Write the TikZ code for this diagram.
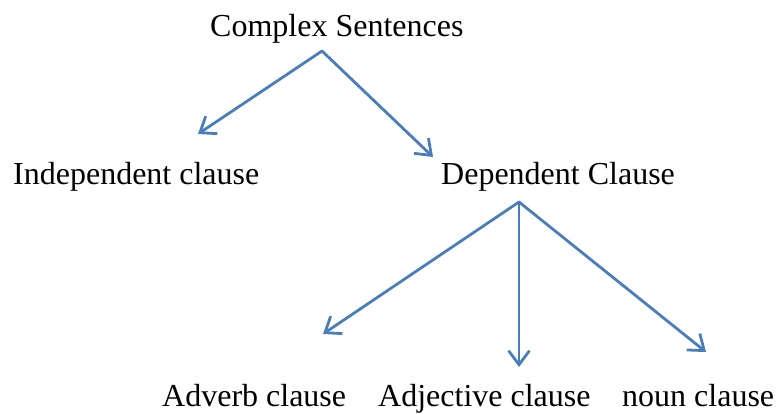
\documentclass[tikz,border=0pt]{standalone}
\usepackage{fontspec}
\setmainfont{Liberation Serif}
\usetikzlibrary{arrows.meta}
\definecolor{lineblue}{RGB}{74,126,187}
\begin{document}
\begin{tikzpicture}[x=1pt,y=-1pt,
  label/.style={inner sep=0pt,anchor=base west,font=\fontsize{32}{38}\selectfont},
  conn/.style={draw=lineblue,line width=2.8pt,line cap=round,line join=round,
    -{Straight Barb[length=14pt,width=21pt,line width=2.8pt]}}]
\useasboundingbox (0,0) rectangle (779,413);
\node[label] (cs) at (210,36) {Complex Sentences};
\node[label] (ic) at (13,184) {Independent clause};
\node[label] (dc) at (441,184) {Dependent Clause};
\node[label] (adv) at (162,406) {Adverb clause};
\node[label] (adj) at (378,406) {Adjective clause};
\node[label] (nc) at (622,406) {noun clause};
\coordinate (csout) at (322,51);
\coordinate (dcout) at (519,202);
\coordinate (icin) at (198,134);
\coordinate (dcin) at (433,157);
\coordinate (advin) at (323,334);
\coordinate (adjin) at (519,367);
\coordinate (ncin) at (706,352);
\draw[conn] (csout) -- (icin);
\draw[conn] (csout) -- (dcin);
\draw[conn] (dcout) -- (advin);
\draw[conn] (dcout) -- (adjin);
\draw[conn] (dcout) -- (ncin);
\end{tikzpicture}
\end{document}
